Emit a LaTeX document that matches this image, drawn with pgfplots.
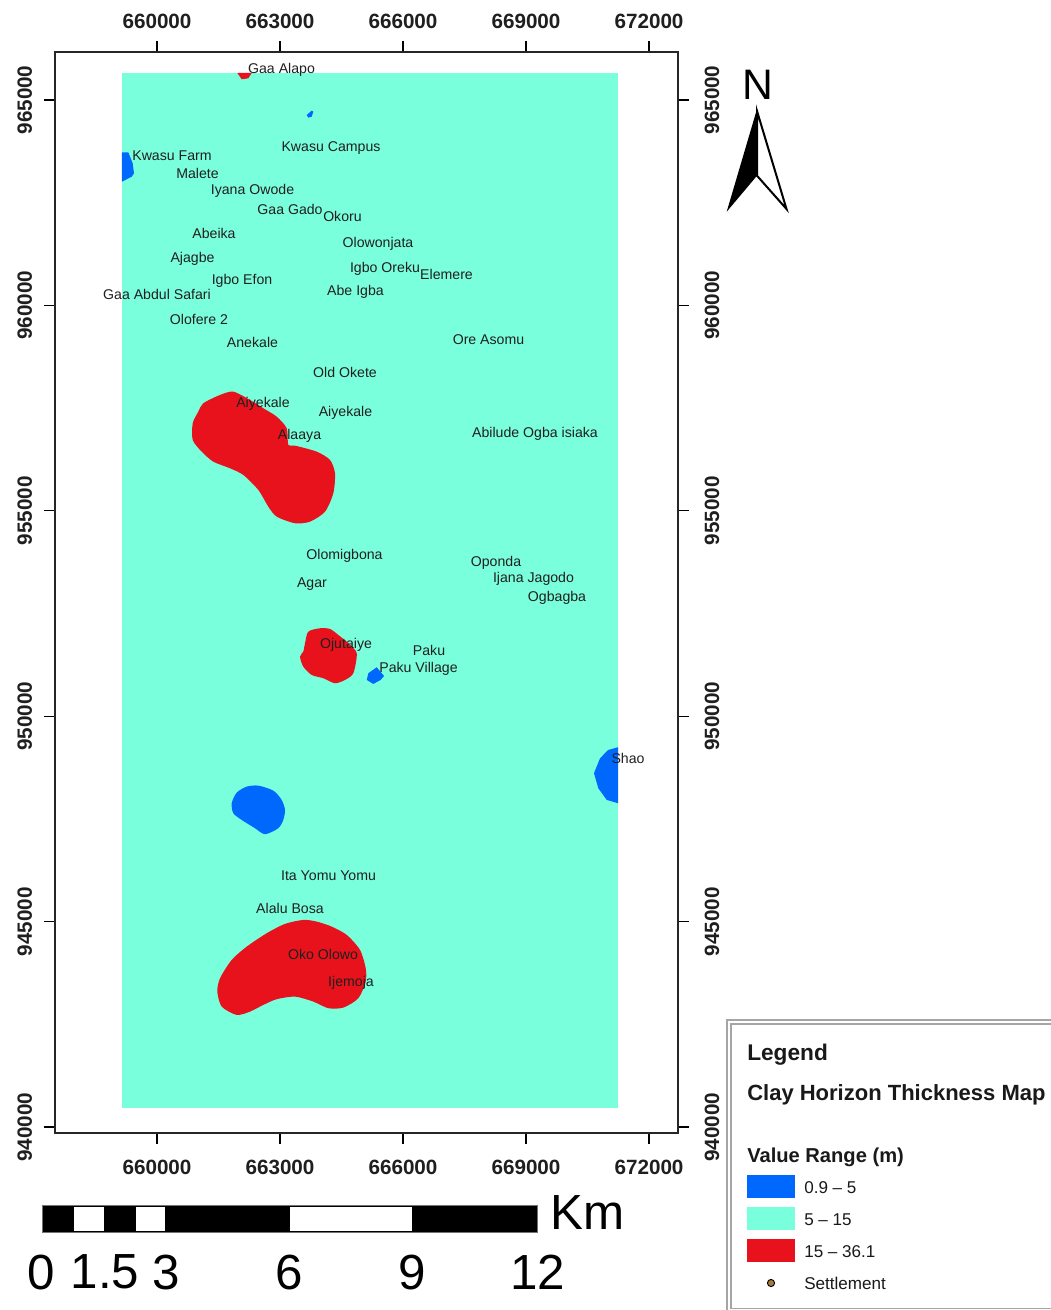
\documentclass[border=0pt]{standalone}
\usepackage{fontspec}
\setmainfont{Liberation Sans}
\usepackage{pgfplots}
\pgfplotsset{compat=1.18}

\definecolor{lowblue}{RGB}{0,104,252}
\definecolor{midmint}{RGB}{122,255,221}
\definecolor{highred}{RGB}{232,18,28}
\definecolor{settle}{RGB}{168,120,60}
\definecolor{framegray}{RGB}{165,165,165}

\newcommand{\ticksfont}{\fontsize{15.5}{18}\selectfont\bfseries}
\newcommand{\lbl}[3]{\node[text=black!88,font=\fontsize{10.6}{12}\selectfont,inner sep=0pt,text height=7.6pt,text depth=0pt] at (axis cs:#1,#2) {#3};}

\pgfplotsset{
  mapframe/.style={
    at={(41.25pt,-849.75pt)}, anchor=south west,
    scale only axis, width=467.25pt, height=810.75pt,
    xmin=657512, xmax=672707, ymin=939854, ymax=966168,
    xtick={660000,663000,...,672000},
    ytick={940000,945000,...,965000},
    scaled ticks=false,
    tick align=outside, major tick length=8.25pt,
    tick pos=both,
    every tick/.style={black, line width=1pt},
    axis line style={line width=1pt, black!85},
    clip=false,
    /pgf/number format/fixed,
    /pgf/number format/1000 sep={},
    /pgf/number format/assume math mode=true,
    ticklabel style={font=\ticksfont, text=black!88},
  },
  blob/.style={draw=none, fill=#1, smooth cycle, tension=0.45},
}

\begin{document}
\begin{tikzpicture}
\path[use as bounding box] (0,0) rectangle (787.5pt,-982.5pt);

\begin{axis}[mapframe,
    xticklabel pos=bottom, yticklabel pos=left,
    yticklabel style={rotate=90, anchor=south},
    xticklabel shift=8.2pt, yticklabel shift=5.5pt]
% value range 5 - 15
\addplot[draw=none, fill=midmint] coordinates {
  (659146,965657)(671244,965657)(671244,940465)(659146,940465)} -- cycle;
% value range 15 - 36.1
\addplot[blob=highred] coordinates {
  (661861,957900)(661537,957820)(661129,957618)(661007,957413)(660871,957131)
  (660871,956724)(661090,956440)(661373,956196)(661780,956035)(662105,955872)
  (662471,955507)(662715,955101)(662919,954858)(663366,954697)(663732,954736)
  (664098,954979)(664300,955427)(664341,955914)(664219,956238)(663895,956440)
  (663366,956586)(663202,956603)(663163,957009)(662919,957292)(662593,957496)
  (662268,957698)};
\addplot[blob=highred] coordinates {
  (663568,945041)(663122,944944)(662676,944717)(662188,944391)(661822,944068)
  (661537,943622)(661471,943296)(661578,942931)(661944,942729)(662268,942809)
  (662593,942972)(662919,943111)(663366,943174)(663812,943053)(664178,942892)
  (664544,942907)(664910,943135)(665090,943539)(665090,943865)(664951,944311)
  (664627,944676)(664261,944878)(663895,945000)};
\addplot[blob=highred] coordinates {
  (663976,952141)(663690,952058)(663610,951776)(663568,951572)(663488,951450)
  (663568,951207)(663773,951004)(664056,950924)(664341,950802)(664585,950883)
  (664788,951046)(664871,951533)(664666,951776)(664422,951978)(664219,952124)};
\addplot[draw=none, fill=highred] coordinates {
  (661959,965657)(662310,965657)(662227,965528)(662066,965504)} -- cycle;
% value range 0.9 - 5
\addplot[draw=none, fill=lowblue] coordinates {
  (665358,951192)(665154,951046)(665115,950883)(665276,950785)(665456,950883)(665537,950980)} -- cycle;
\addplot[blob=lowblue] coordinates {
  (662471,948310)(662188,948286)(661944,948140)(661822,947882)(661861,947638)
  (662066,947475)(662390,947273)(662634,947127)(662958,947273)(663080,947475)
  (663122,947719)(663041,947962)(662837,948188)};
\addplot[draw=none, fill=lowblue] coordinates {
  (671244,949245)(671007,949179)(670805,948977)(670658,948612)(670763,948247)
  (670968,947962)(671244,947882)} -- cycle;
\addplot[draw=none, fill=lowblue] coordinates {
  (659146,963727)(659300,963727)(659407,963459)(659439,963216)(659383,963133)(659146,963011)} -- cycle;
\addplot[draw=none, fill=lowblue] coordinates {
  (663773,964740)(663651,964635)(663690,964569)(663773,964594)(663812,964715)} -- cycle;
% settlements
\lbl{663037}{965779}{Gaa Alapo}
\lbl{664244}{963880}{Kwasu Campus}
\lbl{660366}{963661}{Kwasu Farm}
\lbl{660988}{963223}{Malete}
\lbl{662329}{962834}{Iyana Owode}
\lbl{663244}{962335}{Gaa Gado}
\lbl{664524}{962177}{Okoru}
\lbl{661390}{961763}{Abeika}
\lbl{665390}{961531}{Olowonjata}
\lbl{660866}{961166}{Ajagbe}
\lbl{665561}{960935}{Igbo Oreku}
\lbl{667061}{960765}{Elemere}
\lbl{662073}{960631}{Igbo Efon}
\lbl{664841}{960375}{Abe Igba}
\lbl{660000}{960266}{Gaa Abdul Safari}
\lbl{661024}{959670}{Olofere 2}
\lbl{662329}{959110}{Anekale}
\lbl{668085}{959183}{Ore Asomu}
\lbl{664585}{958367}{Old Okete}
\lbl{662585}{957649}{Aiyekale}
\lbl{664597}{957430}{Aiyekale}
\lbl{663476}{956870}{Alaaya}
\lbl{669219}{956907}{Abilude Ogba isiaka}
\lbl{664573}{953950}{Olomigbona}
\lbl{668268}{953767}{Oponda}
\lbl{669183}{953390}{Ijana Jagodo}
\lbl{669756}{952927}{Ogbagba}
\lbl{663780}{953268}{Agar}
\lbl{664610}{951783}{Ojutaiye}
\lbl{666634}{951613}{Paku}
\lbl{666378}{951199}{Paku Village}
\lbl{671488}{948984}{Shao}
\lbl{664183}{946136}{Ita Yomu Yomu}
\lbl{663244}{945309}{Alalu Bosa}
\lbl{664049}{944189}{Oko Olowo}
\lbl{664732}{943532}{Ijemoja}
\end{axis}

% same frame again, for the labels along the top and the right
\begin{axis}[mapframe,
    xticklabel pos=top, yticklabel pos=right,
    yticklabel style={rotate=90, anchor=north},
    xticklabel shift=6pt, yticklabel shift=8.2pt]
\end{axis}

\begin{scope}[x=0.75pt, y=-0.75pt]
% north arrow
\node[font=\fontsize{32}{36}\selectfont, inner sep=0pt] at (757.5,85) {N};
\fill[black] (757,109) -- (726.7,211.7) -- (757,175.7) -- cycle;
\draw[black, line width=1.5pt, line join=miter, fill=white] (757,111) -- (786.5,209) -- (757,175.7) -- cycle;

% scale bar
\fill[black] (42,1205) rectangle (537,1232);
\fill[white] (74,1206.5) rectangle (104,1230.5);
\fill[white] (136,1206.5) rectangle (165,1230.5);
\fill[white] (290,1206.5) rectangle (412,1230.5);
\draw[black!55, line width=0.6pt] (42,1205) rectangle (537,1232);
\node[font=\fontsize{37}{40}\selectfont, inner sep=0pt, anchor=west] at (550,1213) {Km};
\foreach \px/\txt in {41/0, 105/1.5, 166/3, 289/6, 412/9, 538/12}
  \node[font=\fontsize{37}{40}\selectfont, inner sep=0pt] at (\px,1272) {\txt};

% legend box
\draw[framegray, line width=1pt] (1052,1020) -- (727,1020) -- (727,1312);
\draw[framegray, line width=1pt] (1052,1024) -- (731,1024) -- (731,1308.5) -- (1052,1308.5);
\begin{scope}[every node/.style={inner sep=0pt, anchor=west, text=black!90}]
\node[font=\fontsize{17}{19}\selectfont\bfseries] at (747,1055) {Legend};
\node[font=\fontsize{16.5}{19}\selectfont\bfseries] at (747,1095) {Clay Horizon Thickness Map};
\node[font=\fontsize{15.1}{19}\selectfont\bfseries] at (747,1157) {Value Range (m)};
\fill[lowblue] (747,1175) rectangle (795,1198);
\fill[midmint] (747,1207) rectangle (795,1230);
\fill[highred] (747,1239) rectangle (795,1262);
\node[font=\fontsize{12.8}{15}\selectfont] at (804,1188) {0.9 -- 5};
\node[font=\fontsize{12.8}{15}\selectfont] at (804,1220) {5 -- 15};
\node[font=\fontsize{12.8}{15}\selectfont] at (804,1252) {15 -- 36.1};
\node[font=\fontsize{12.8}{15}\selectfont] at (804,1283) {Settlement};
\filldraw[fill=settle, draw=black, line width=0.7pt] (771,1283) circle (3.6);
\end{scope}
\end{scope}
\end{tikzpicture}
\end{document}
